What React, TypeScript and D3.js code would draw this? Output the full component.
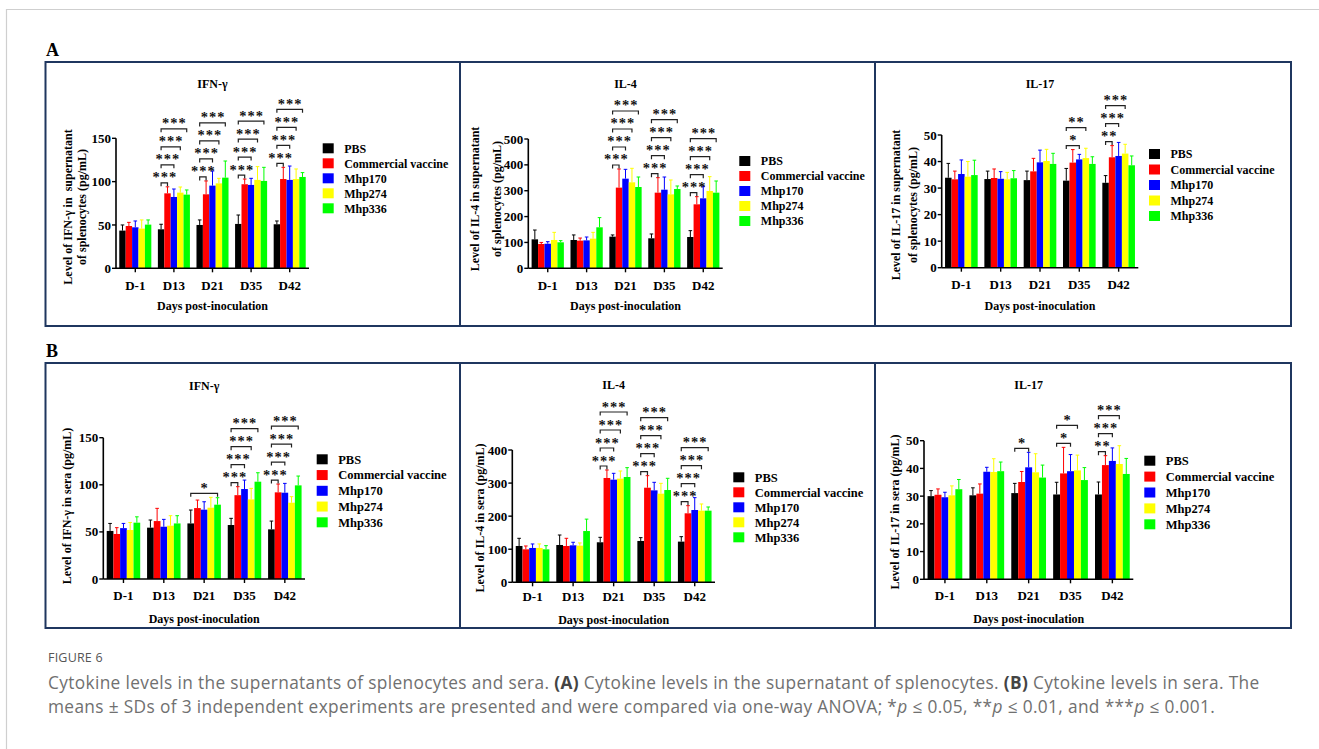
import React from "react";
import * as d3 from "d3";

const days = ["D-1", "D13", "D21", "D35", "D42"];
const groups = ["PBS", "Commercial vaccine", "Mhp170", "Mhp274", "Mhp336"];
const groupColors = ["#000000", "#ff0000", "#0000ff", "#ffff00", "#00ff00"];

// rows = days, columns = groups (mean and SD)
// A: supernatant of splenocytes
const aIfnMean = [[43.5, 48.8, 47.3, 45.8, 50.4], [45, 86.5, 82.3, 87.3, 85], [50, 85.4, 95.4, 98, 104.6], [51.2, 97, 96.2, 102, 100.8], [50.8, 103, 102, 103, 105.4]];
const aIfnSd = [[6.5, 4.2, 7.3, 10, 5.4], [5.8, 7.5, 9.2, 6.5, 5.4], [5.8, 15.4, 16.9, 5.8, 19.2], [10.3, 6, 7.6, 15.3, 15.7], [3.8, 13.5, 16, 11.6, 5]];
const aIl4Mean = [[112, 94, 95, 109.5, 100.5], [109.5, 107, 108, 114.7, 158.5], [122.4, 312, 346.6, 332.5, 314.4], [116, 292.5, 304, 286, 306.7], [121, 247.4, 270.6, 299, 292.5]];
const aIl4Sd = [[36, 6, 8, 29.5, 6.5], [19.5, 10, 13, 24.3, 37.5], [6.6, 72, 36.1, 54.1, 38.6], [16.7, 58, 49, 55.5, 11.6], [24.6, 29.6, 45.1, 55.4, 45.1]];
const aIl17Mean = [[33.9, 33.3, 35.3, 34.3, 34.9], [33.4, 33.8, 33.5, 33.3, 33.7], [33, 36.3, 39.7, 40.2, 39.1], [32.8, 39.6, 40.8, 41.3, 39.1], [32, 41.6, 42.1, 43, 38.6]];
const aIl17Sd = [[5.4, 3.1, 5.3, 5.7, 5.6], [3, 3.4, 2.7, 2.6, 2.9], [3.4, 4.9, 4.6, 4.4, 4], [4.6, 4.9, 1.9, 3.7, 2.7], [2.7, 4.4, 5.1, 3.5, 3.5]];
// B: sera
const bIfnMean = [[51, 47.8, 54, 52, 59.8], [54.5, 61.5, 55.5, 56.6, 59], [59, 75.3, 73.6, 75.7, 78.9], [57.3, 89, 95.5, 84.5, 103.3], [52.7, 92, 91.6, 81, 99.4]];
const bIfnSd = [[8, 6.7, 5, 8, 6.2], [8.1, 13.5, 7.8, 10.6, 8.2], [14.2, 8.5, 8.4, 11, 7.4], [7.1, 9, 9.5, 11.7, 9.5], [8.8, 8.8, 9.9, 6.4, 9.9]];
const bIl4Mean = [[109.8, 99.7, 103.8, 103.8, 99.7], [112.8, 109.8, 111.8, 110.8, 155], [121, 315.4, 310.3, 313.4, 318.4], [125, 286, 278, 268, 279], [123, 208.6, 218.6, 216.6, 216.6]];
const bIl4Sd = [[23.2, 10.1, 12.1, 12.2, 11.1], [30.2, 23.2, 9.2, 8.2, 36], [15, 24.1, 19.2, 23.1, 28.2], [10, 36.4, 24.3, 31.2, 35.4], [15, 23.1, 37.4, 20.2, 11.1]];
const bIl17Mean = [[30, 30.5, 29.6, 30.3, 32.5], [30.3, 30.9, 38.8, 38.7, 39], [31.1, 35.1, 40.4, 38.6, 36.7], [30.6, 38.2, 39, 39.3, 35.8], [30.6, 41.2, 42.7, 41.6, 38]];
const bIl17Sd = [[2, 2.1, 1.8, 3.4, 3.5], [2.7, 3.5, 1.6, 4.8, 3.3], [3.5, 3.8, 5.4, 6.7, 4.5], [4.4, 9.4, 6, 5.5, 4.5], [4.5, 3.4, 4.7, 6.6, 5.6]];

// significance vs PBS: columns = Commercial vaccine, Mhp170, Mhp274, Mhp336
const none = ["", "", "", ""];
const all3 = ["***", "***", "***", "***"];
const aIfnSig = [none, all3, all3, all3, all3];
const aIl4Sig = [none, none, all3, all3, all3];
const aIl17Sig = [none, none, none, ["", "*", "**", ""], ["**", "***", "***", ""]];
const bIfnSig = [none, none, ["", "", "", "*"], all3, all3];
const bIl4Sig = [none, none, all3, all3, all3];
const bIl17Sig = [none, none, ["", "*", "", ""], ["", "*", "*", ""], ["**", "***", "***", ""]];

const ticks150 = [0, 50, 100, 150];
const ticks500 = [0, 100, 200, 300, 400, 500];
const ticks400 = [0, 100, 200, 300, 400];
const ticks50 = [0, 10, 20, 30, 40, 50];

const serif = "'Liberation Serif', 'Times New Roman', serif";

const panels = [
  { title: "IFN-γ", mean: aIfnMean, sd: aIfnSd, sig: aIfnSig, ticks: ticks150,
    yTitle: ["Level of IFN-γ in  supernatant", "of splenocytes (pg/mL)"],
    x0: 116, x1: 309, y0: 268.3, y1: 138.3, titleY: 83.3, yTitleX: [67.7, 81.7], yTitleY: 207,
    legendX: 322.7, legendY: 148.3, legendStep: 15, catY: 285, xTitleY: 305.7, lfs: 12 },
  { title: "IL-4", mean: aIl4Mean, sd: aIl4Sd, sig: aIl4Sig, ticks: ticks500,
    yTitle: ["Level of IL-4 in supernatant", "of splenocytes (pg/mL)"],
    x0: 528.3, x1: 722.7, y0: 268.3, y1: 139, titleY: 83.3, yTitleX: [475, 497], yTitleY: 199,
    legendX: 739.3, legendY: 161, legendStep: 15, catY: 285, xTitleY: 305.7, lfs: 12 },
  { title: "IL-17", mean: aIl17Mean, sd: aIl17Sd, sig: aIl17Sig, ticks: ticks50,
    yTitle: ["Level of IL-17 in supernatant", "of splenocytes (pg/mL)"],
    x0: 941.7, x1: 1138.3, y0: 267.7, y1: 135, titleY: 83.3, yTitleX: [895.7, 912.3], yTitleY: 205,
    legendX: 1149, legendY: 154, legendStep: 15.5, catY: 284.5, xTitleY: 305.7, lfs: 12 },
  { title: "IFN-γ", mean: bIfnMean, sd: bIfnSd, sig: bIfnSig, ticks: ticks150,
    yTitle: ["Level of IFN-γ in sera (pg/mL)"],
    x0: 103.3, x1: 305, y0: 579, y1: 437.7, titleY: 386, yTitleX: [66.7], yTitleY: 506,
    legendX: 316.7, legendY: 459.3, legendStep: 15.75, catY: 595, xTitleY: 618.3, lfs: 12.5 },
  { title: "IL-4", mean: bIl4Mean, sd: bIl4Sd, sig: bIl4Sig, ticks: ticks400,
    yTitle: ["Level of IL-4 in sera (pg/mL)"],
    x0: 512.3, x1: 715, y0: 582.3, y1: 450, titleY: 385, yTitleX: [480], yTitleY: 518,
    legendX: 733.3, legendY: 477.3, legendStep: 15, catY: 596.7, xTitleY: 619.3, lfs: 12.5 },
  { title: "IL-17", mean: bIl17Mean, sd: bIl17Sd, sig: bIl17Sig, ticks: ticks50,
    yTitle: ["Level of IL-17 in sera (pg/mL)"],
    x0: 924, x1: 1133.3, y0: 579.3, y1: 440.7, titleY: 385, yTitleX: [895], yTitleY: 512,
    legendX: 1144.3, legendY: 460.7, legendStep: 15.9, catY: 595, xTitleY: 618.3, lfs: 12.5 },
];

function Panel({ c }: { c: any }) {
  const x = d3.scaleBand().domain(days).range([c.x0, c.x1]).paddingInner(0.17).paddingOuter(0.085);
  const xs = d3.scaleBand().domain(groups).range([0, x.bandwidth()]);
  const y = d3.scaleLinear().domain([0, c.ticks[c.ticks.length - 1]]).range([c.y0, c.y1]);
  const cx = (c.x0 + c.x1) / 2;
  const barC = (d: string, g: number) => (x(d) as number) + (xs(groups[g]) as number) + xs.bandwidth() / 2;

  // stacked significance brackets above the bars they span
  const brackets: any[] = [];
  days.forEach((d, di) => {
    let prev = Infinity;
    c.sig[di].forEach((s: string, k: number) => {
      if (!s) return;
      const g = k + 1;
      const top = d3.min(d3.range(g + 1), (j) => y(c.mean[di][j] + c.sd[di][j])) as number;
      const yy = Math.min(top - 4, prev - 18);
      prev = yy;
      brackets.push({ xa: barC(d, 0), xb: barC(d, g), y: yy, s, key: d + k });
    });
  });

  return (
    <g fontFamily={serif} fontWeight="bold" fill="#000">
      <text x={cx} y={c.titleY} dy="0.35em" textAnchor="middle" fontSize={12}>{c.title}</text>
      {c.yTitle.map((t: string, i: number) => (
        <text key={i} transform={`translate(${c.yTitleX[i]},${c.yTitleY}) rotate(-90)`} dy="0.35em"
          textAnchor="middle" fontSize={12} style={{ whiteSpace: "pre" }}>{t}</text>
      ))}
      {days.map((d, di) => (
        <g key={d}>
          {groups.map((gName, g) => {
            const m = c.mean[di][g];
            const s = c.sd[di][g];
            const bx = (x(d) as number) + (xs(gName) as number);
            const mx = bx + xs.bandwidth() / 2;
            return (
              <g key={gName}>
                <line x1={mx} x2={mx} y1={y(m)} y2={y(m + s)} stroke={groupColors[g]} strokeWidth={1} />
                <line x1={mx - 1.8} x2={mx + 1.8} y1={y(m + s)} y2={y(m + s)} stroke={groupColors[g]} strokeWidth={1} />
                <rect x={bx} y={y(m)} width={xs.bandwidth()} height={c.y0 - y(m)} fill={groupColors[g]} />
              </g>
            );
          })}
        </g>
      ))}
      {brackets.map((b) => (
        <g key={b.key}>
          <path d={`M${b.xa},${b.y + 3.5}V${b.y}H${b.xb}V${b.y + 3.5}`} fill="none" stroke="#222" strokeWidth={1.2} />
          <text x={(b.xa + b.xb) / 2 + 0.5} y={b.y - 0.5} textAnchor="middle" fontSize={14.5} letterSpacing={1} fill="#111">{b.s}</text>
        </g>
      ))}
      {/* axes */}
      <line x1={c.x0} x2={c.x0} y1={c.y1} y2={c.y0} stroke="#000" strokeWidth={1.6} />
      <line x1={c.x0} x2={c.x1} y1={c.y0} y2={c.y0} stroke="#000" strokeWidth={1.6} />
      {c.ticks.map((t: number) => (
        <g key={t}>
          <line x1={c.x0 - 4} x2={c.x0} y1={y(t)} y2={y(t)} stroke="#000" strokeWidth={1.4} />
          <text x={c.x0 - 5} y={y(t)} dy="0.35em" textAnchor="end" fontSize={13}>{t}</text>
        </g>
      ))}
      {days.map((d) => {
        const mx = (x(d) as number) + x.bandwidth() / 2;
        return (
          <g key={d}>
            <line x1={mx} x2={mx} y1={c.y0} y2={c.y0 + 4} stroke="#000" strokeWidth={1.4} />
            <text x={mx} y={c.catY} dy="0.35em" textAnchor="middle" fontSize={13}>{d}</text>
          </g>
        );
      })}
      <text x={cx} y={c.xTitleY} dy="0.35em" textAnchor="middle" fontSize={12}>Days post-inoculation</text>
      {/* legend */}
      {groups.map((gName, g) => (
        <g key={gName} transform={`translate(${c.legendX},${c.legendY + g * c.legendStep})`}>
          <rect x={0} y={-5} width={11} height={10} fill={groupColors[g]} />
          <text x={21.5} y={0} dy="0.35em" fontSize={c.lfs}>{gName}</text>
        </g>
      ))}
    </g>
  );
}

export default function App() {
  const boxStroke = "#1f365f";
  return (
    <svg width={1319} height={749} style={{ position: "absolute", left: 0, top: 0, background: "#fff" }}>
      <rect width={1319} height={749} fill="#fff" />
      <path d="M6.5,749V9.5H1319" fill="none" stroke="#cfcfcf" strokeWidth={1.2} />
      <text x={46} y={56} fontFamily={serif} fontWeight="bold" fontSize={18}>A</text>
      <text x={46} y={357} fontFamily={serif} fontWeight="bold" fontSize={18}>B</text>
      <rect x={45.5} y={62} width={1245.5} height={264} fill="none" stroke={boxStroke} strokeWidth={2} />
      <line x1={460} x2={460} y1={62} y2={326} stroke={boxStroke} strokeWidth={2} />
      <line x1={875} x2={875} y1={62} y2={326} stroke={boxStroke} strokeWidth={2} />
      <rect x={45.5} y={363} width={1245.5} height={265} fill="none" stroke={boxStroke} strokeWidth={2} />
      <line x1={460} x2={460} y1={363} y2={628} stroke={boxStroke} strokeWidth={2} />
      <line x1={875} x2={875} y1={363} y2={628} stroke={boxStroke} strokeWidth={2} />
      {panels.map((c, i) => <Panel key={i} c={c} />)}
      <g fontFamily="'Open Sans', Lato, sans-serif" fill="#707070">
        <text x={48} y={662} fontSize={12.5} fill="#555" letterSpacing={0.2}>FIGURE 6</text>
        <text x={48} y={689} fontSize={17.3} letterSpacing={0.35}>
          Cytokine levels in the supernatants of splenocytes and sera.{" "}
          <tspan fontWeight="bold" fill="#444">(A)</tspan> Cytokine levels in the supernatant of splenocytes.{" "}
          <tspan fontWeight="bold" fill="#444">(B)</tspan> Cytokine levels in sera. The
        </text>
        <text x={48} y={713} fontSize={17.3} letterSpacing={0.35}>
          means ± SDs of 3 independent experiments are presented and were compared via one-way ANOVA; *
          <tspan fontStyle="italic">p</tspan> ≤ 0.05, **<tspan fontStyle="italic">p</tspan> ≤ 0.01, and ***
          <tspan fontStyle="italic">p</tspan> ≤ 0.001.
        </text>
      </g>
    </svg>
  );
}
